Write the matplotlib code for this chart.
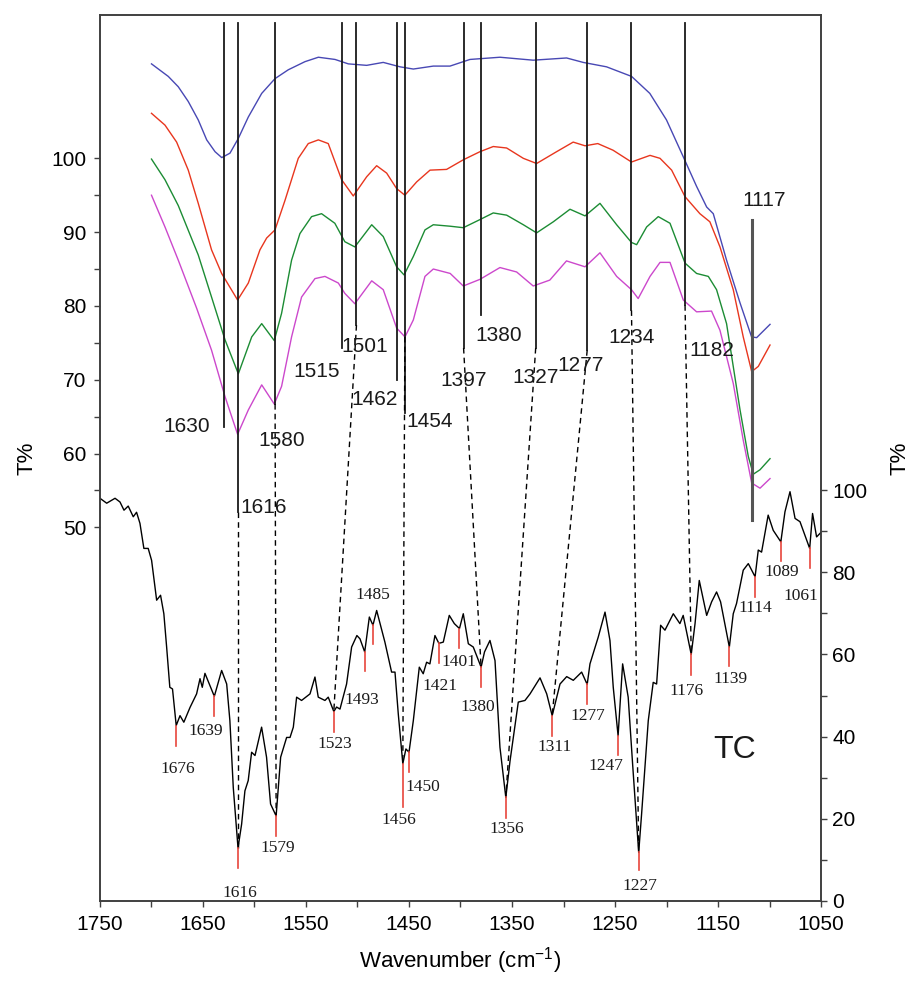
"""
FTIR overlay: four sample spectra (left T% axis) above the TC reference
spectrum (right T% axis), with band assignments linked by dashed lines.
"""
import matplotlib
matplotlib.use("Agg")
import matplotlib.pyplot as plt
import numpy as np
from matplotlib.ticker import FixedLocator

plt.rcParams["font.family"] = ["Liberation Sans", "DejaVu Sans"]
plt.rcParams["mathtext.fontset"] = "custom"
plt.rcParams["mathtext.rm"] = "Liberation Sans"

# --- sample spectra (wavenumber, T%) ---------------------------------------
WN_BLUE = [1700, 1683.7, 1674, 1664.3, 1654.6, 1646.4, 1638.3, 1631.8, 1623.8, 1615.7,
           1606, 1593, 1580.1, 1567.2, 1551, 1538, 1521.8, 1508.9, 1491.1, 1475,
           1458.7, 1445.8, 1426.4, 1410.2, 1390.8, 1361.7, 1329.4, 1297, 1280.9, 1258.2,
           1233.9, 1216.2, 1200, 1183.7, 1170.8, 1161, 1154.6, 1141.7, 1128.6, 1117.4,
           1112.5, 1099.5]
T_BLUE = [112.8, 111.1, 109.7, 107.7, 105.2, 102.5, 100.9, 100.1, 100.7, 102.7,
          105.6, 108.8, 110.8, 112.0, 113.1, 113.7, 113.4, 112.8, 112.6, 113.0,
          112.4, 112.1, 112.5, 112.5, 113.4, 113.7, 113.3, 113.6, 113.0, 112.4,
          111.1, 108.8, 105.2, 100.2, 96.2, 93.4, 92.5, 86.2, 80.4, 75.8,
          75.7, 77.5]

WN_RED = [1700, 1686.9, 1675.6, 1664.3, 1654.6, 1641.7, 1631.9, 1616.4, 1606, 1594.7,
          1588.2, 1580.1, 1570.4, 1557.5, 1547.8, 1538, 1528.4, 1515.4, 1504.1, 1491.1,
          1481.4, 1471.7, 1462, 1454, 1442.6, 1429.6, 1413.5, 1397.3, 1381.1, 1368.2,
          1355.2, 1339, 1326.1, 1306.7, 1290.6, 1279.1, 1266.7, 1251.9, 1234, 1216,
          1206.3, 1195, 1182, 1167.6, 1157.9, 1148.1, 1135.2, 1125.5, 1117.3, 1110.9,
          1099.5]
T_RED = [106.1, 104.5, 102.2, 98.4, 93.9, 87.6, 84.4, 80.8, 83.1, 87.6,
         89.2, 90.3, 94.3, 100.0, 102.0, 102.5, 102.0, 97.1, 94.9, 97.5,
         99.0, 98.0, 95.9, 95.0, 96.8, 98.4, 98.5, 99.8, 100.9, 101.6,
         101.4, 100.0, 99.3, 100.9, 102.2, 101.7, 102.0, 101.1, 99.5, 100.4,
         100.0, 98.4, 94.8, 92.5, 91.4, 88.0, 82.2, 75.8, 71.1, 71.8,
         74.7]

WN_GREEN = [1700, 1686.9, 1674, 1654.6, 1641.7, 1628.6, 1615.7, 1602.7, 1593, 1580.8,
            1573.7, 1564, 1555.9, 1544.6, 1534.9, 1522, 1512.3, 1502.6, 1486.2, 1475,
            1462, 1454.8, 1445.8, 1434.5, 1426.4, 1410, 1397.3, 1381.1, 1368.2, 1355.2,
            1339, 1326.1, 1309.9, 1293.7, 1279.1, 1264.6, 1248.4, 1234, 1229, 1219.3,
            1208, 1196.6, 1182, 1170.8, 1159.4, 1151.4, 1141.7, 1128.6, 1120.6, 1115.7,
            1109.2, 1099.5]
T_GREEN = [99.9, 97.1, 93.6, 86.9, 81.2, 75.4, 70.8, 75.8, 77.6, 75.3,
           79.0, 86.2, 89.8, 92.1, 92.5, 91.2, 88.7, 88.0, 91.0, 89.4,
           85.3, 84.2, 86.7, 90.3, 91.0, 90.8, 90.6, 91.7, 92.6, 92.3,
           91.0, 89.9, 91.4, 93.1, 92.2, 93.9, 91.0, 88.6, 88.3, 90.7,
           92.1, 91.2, 85.8, 84.4, 84.0, 82.2, 77.6, 65.9, 59.6, 57.2,
           57.8, 59.3]

WN_MAGENTA = [1700, 1686.9, 1674, 1656.2, 1641.7, 1628.6, 1616.4, 1606, 1593, 1580.8,
              1573.7, 1564, 1554.3, 1541.3, 1531.6, 1518.6, 1512.3, 1502.6, 1486.2, 1475,
              1462, 1453.9, 1445.8, 1434.5, 1426.4, 1410, 1397.3, 1381.1, 1361.7, 1345.5,
              1329.4, 1313.3, 1297.1, 1279.1, 1264.6, 1248.4, 1234, 1227.5, 1216, 1206.3,
              1196.6, 1183.7, 1170.8, 1156.3, 1148.1, 1135.2, 1125.5, 1117.3, 1109.2, 1099.5]
T_MAGENTA = [95.0, 90.7, 86.2, 79.7, 74.0, 67.7, 62.6, 65.9, 69.3, 66.7,
             69.1, 75.8, 81.2, 83.7, 84.0, 83.1, 81.7, 80.3, 83.4, 82.2,
             77.0, 75.8, 78.1, 84.0, 85.0, 84.4, 82.7, 83.6, 85.2, 84.6,
             82.7, 83.5, 86.1, 85.3, 87.2, 84.0, 82.2, 81.0, 84.0, 85.9,
             85.9, 80.8, 79.2, 79.3, 76.7, 69.5, 61.8, 56.0, 55.3, 56.6]

# --- TC reference spectrum (right axis) -------------------------------------
TC_WN = [1750, 1743.5, 1735.4, 1730.6, 1726.7, 1722.6, 1717.7, 1714.5, 1711.2, 1707.4,
         1703.2, 1699.9, 1695, 1691.2, 1688, 1685.3, 1682.2, 1679.6, 1676, 1672.3,
         1668.6, 1662.6, 1656.2, 1652.9, 1650.7, 1648.1, 1639, 1631.9, 1627, 1623.9,
         1620.6, 1616, 1612.5, 1609.3, 1606.1, 1602.8, 1599.5, 1593.1, 1588.3, 1584.4,
         1579, 1574.6, 1568.8, 1565.5, 1562.3, 1559.1, 1554.3, 1546.1, 1541.3, 1538.1,
         1531.6, 1528.4, 1523, 1520.3, 1517, 1510.6, 1505.7, 1500.6, 1497.6, 1493,
         1488.5, 1485, 1481.4, 1473.4, 1466.9, 1463.6, 1460.4, 1456, 1453, 1450,
         1445.8, 1440, 1436.2, 1432.9, 1429.7, 1424.8, 1421, 1416.7, 1410.9, 1406,
         1401, 1397.3, 1392.4, 1387.6, 1380, 1376.7, 1371.4, 1366.5, 1361.7, 1356,
         1351.9, 1343.9, 1337.4, 1332.5, 1322.8, 1316.3, 1311, 1303.4, 1296.9, 1290.5,
         1282.4, 1277, 1274.3, 1266.3, 1259.7, 1254.9, 1251.7, 1247, 1242.6, 1237.2,
         1232.9, 1227, 1224.2, 1217.7, 1212.9, 1209.6, 1205.7, 1201.5, 1193.4, 1187,
         1183.8, 1176, 1172.3, 1168.2, 1161, 1156.2, 1151.4, 1147.5, 1139, 1135.2,
         1132, 1125.5, 1120.6, 1114, 1110.9, 1107.7, 1101.3, 1096.4, 1089, 1085,
         1080.1, 1075.2, 1070.4, 1061, 1058.2, 1054.3, 1050.4]
TC_T = [98.0, 96.8, 98.0, 97.1, 95.1, 96.1, 93.5, 94.6, 91.9, 85.8,
        85.8, 82.9, 73.2, 74.4, 69.9, 61.8, 52.0, 51.6, 42.7, 45.1,
        43.5, 47.1, 50.4, 54.1, 52.0, 55.4, 49.8, 56.1, 52.8, 43.9,
        27.6, 12.9, 18.7, 26.8, 29.3, 36.2, 35.4, 42.3, 35.0, 23.6,
        20.7, 35.0, 39.8, 39.8, 42.3, 49.6, 48.8, 50.4, 54.5, 49.6,
        48.8, 49.6, 46.1, 47.2, 46.7, 52.8, 61.8, 64.6, 63.8, 60.6,
        69.1, 67.1, 70.7, 63.0, 55.7, 55.7, 45.5, 33.4, 37.0, 36.2,
        43.9, 56.9, 55.3, 58.1, 57.7, 64.6, 62.7, 63.0, 69.5, 67.5,
        66.3, 69.9, 62.6, 61.8, 56.9, 60.6, 63.4, 58.5, 37.4, 25.2,
        34.1, 48.4, 48.8, 50.4, 54.3, 50.4, 45.1, 52.8, 54.6, 53.7,
        55.7, 52.7, 57.7, 64.2, 70.3, 63.4, 52.0, 40.2, 57.7, 49.6,
        33.3, 11.8, 21.1, 43.9, 53.2, 52.8, 67.1, 65.9, 69.9, 67.5,
        69.5, 60.0, 67.5, 78.0, 69.5, 72.8, 75.2, 72.8, 61.8, 69.9,
        72.4, 80.5, 82.1, 78.9, 85.4, 84.9, 93.9, 90.2, 87.4, 94.7,
        99.6, 93.1, 92.3, 85.8, 94.3, 88.6, 89.6]

# TC peak picks
TC_PEAKS = [1676, 1639, 1616, 1579, 1523, 1493, 1485, 1456, 1450, 1421, 1401,
            1380, 1356, 1311, 1277, 1247, 1227, 1176, 1139, 1114, 1089, 1061]

# sample band assignments and the TC peak each one is linked to (None = no link)
BANDS = [1630, 1616, 1580, 1515, 1501, 1462, 1454, 1397, 1380, 1327, 1277, 1234, 1182]
BAND_TO_TC = [None, 1616, 1579, None, 1523, None, 1456, 1380, None, 1356, 1311, 1227, 1176]
MAIN_BAND = 1117

# --- layout -----------------------------------------------------------------
LEFT_LIM = (-0.64, 119.42)
RIGHT_LIM = (0.0, 215.6)
LINE_TOP = 118.4
BAND_LINE_BOTTOM = [63.6, 52.1, 66.7, 74.3, 77.4, 70.0, 65.5, 74.3, 78.8, 74.3, 74.0, 79.4, 80.1]
BAND_DASH_START = [None, 52.1, 66.7, None, 77.4, None, 75.8, 74.3, None, 74.3, 74.0, 79.4, 80.1]
BAND_LABEL_XY = [(1665.5, 63.7), (1590.8, 52.7), (1573.3, 61.7), (1539.6, 71.1),
                 (1492.7, 74.5), (1483.3, 67.3), (1430.1, 64.4), (1396.6, 69.9),
                 (1362.8, 76.0), (1327.2, 70.3), (1283.0, 71.9), (1233.5, 75.7),
                 (1155.8, 74.0)]
MAIN_LINE_SPAN = (91.6, 51.0)
MAIN_LABEL_XY = (1104.9, 94.3)
TC_TICK_LEN = [4.9, 4.7, 4.9, 4.8, 4.9, 4.7, 4.5, 10.6, 4.9, 4.9, 4.8,
               4.9, 4.9, 4.9, 4.7, 4.6, 4.3, 4.9, 4.7, 4.9, 4.7, 4.8]
TC_LABEL_XY = [(1674.3, 32.0), (1647.4, 41.3), (1613.8, 1.9), (1577.2, 13.0),
               (1521.8, 38.2), (1495.9, 48.8), (1484.9, 74.4), (1459.7, 19.7),
               (1436.4, 27.8), (1419.9, 52.4), (1401.5, 58.1), (1383.5, 47.1),
               (1355.1, 17.5), (1308.7, 37.4), (1276.0, 44.9), (1259.2, 32.9),
               (1225.7, 3.7), (1180.9, 51.2), (1137.6, 54.1), (1113.3, 71.3),
               (1088.3, 80.1), (1069.8, 74.1)]

FRAME = "#404040"
SERIF = ["Liberation Serif", "DejaVu Serif"]


def right_to_left(v):
    """Map a right-axis T% value onto the left axis scale."""
    r0, r1 = RIGHT_LIM
    l0, l1 = LEFT_LIM
    return l0 + (v - r0) * (l1 - l0) / (r1 - r0)


def tc_at(wn):
    return float(np.interp(wn, TC_WN[::-1], TC_T[::-1]))


def main():
    fig = plt.figure(figsize=(9.09, 9.82), dpi=100)
    ax = fig.add_axes([0.110, 0.0825, 0.7932, 0.9022])
    ax2 = ax.twinx()

    ax.plot(WN_BLUE, T_BLUE, color="#4848b4", lw=1.0)
    ax.plot(WN_RED, T_RED, color="#e8361e", lw=1.0)
    ax.plot(WN_GREEN, T_GREEN, color="#1c8c34", lw=1.0)
    ax.plot(WN_MAGENTA, T_MAGENTA, color="#cc48cc", lw=1.0)
    ax2.plot(TC_WN, TC_T, color="black", lw=1.0)

    ax.set_xlim(1750, 1050)
    ax.set_ylim(*LEFT_LIM)
    ax2.set_ylim(*RIGHT_LIM)

    # band lines, labels and dashed links to the TC peaks
    for i, band in enumerate(BANDS):
        ax.plot([band, band], [LINE_TOP, BAND_LINE_BOTTOM[i]], color="#1a1a1a", lw=1.3)
        lx, ly = BAND_LABEL_XY[i]
        ax.text(lx, ly, str(band), fontsize=15, ha="center", va="center", color="#1a1a1a")
        target = BAND_TO_TC[i]
        if target is not None:
            ax.plot([band, target], [BAND_DASH_START[i], right_to_left(tc_at(target))],
                    color="black", lw=1.0, linestyle=(0, (4, 3)))

    ax.plot([MAIN_BAND, MAIN_BAND], MAIN_LINE_SPAN, color="#555555", lw=2.2)
    ax.text(*MAIN_LABEL_XY, str(MAIN_BAND), fontsize=15, ha="center", va="center",
            color="#1a1a1a")

    # TC peak picks
    for i, pk in enumerate(TC_PEAKS):
        top = tc_at(pk)
        ax2.plot([pk, pk], [top, top - TC_TICK_LEN[i]], color="#e8463c", lw=1.2)
        lx, ly = TC_LABEL_XY[i]
        ax2.text(lx, ly, str(pk), fontsize=12.5, ha="center", va="center",
                 family=SERIF, color="#1a1a1a")

    ax2.text(1133.5, 36.7, "TC", fontsize=23, ha="center", va="center", color="#1a1a1a")

    # axes styling
    ax.xaxis.set_major_locator(FixedLocator(np.arange(1050, 1751, 100)))
    ax.xaxis.set_minor_locator(FixedLocator(np.arange(1100, 1701, 100)))
    ax.yaxis.set_major_locator(FixedLocator(np.arange(50, 101, 10)))
    ax.yaxis.set_minor_locator(FixedLocator(np.arange(55, 100, 10)))
    ax2.yaxis.set_major_locator(FixedLocator(np.arange(0, 101, 20)))
    ax2.yaxis.set_minor_locator(FixedLocator(np.arange(10, 100, 20)))

    for a in (ax, ax2):
        for s in a.spines.values():
            s.set_color(FRAME)
            s.set_linewidth(1.2)
    ax.tick_params(which="both", direction="out", length=4, width=1.0, color=FRAME,
                   labelsize=15, pad=6, top=False, right=False)
    ax2.tick_params(which="both", direction="out", length=4, width=1.0, color=FRAME,
                    labelsize=15, pad=4)

    ax.set_xlabel("Wavenumber (cm$^{-1}$)", fontsize=16, labelpad=8)
    ax.set_ylabel("T%", fontsize=16, labelpad=10)
    ax2.set_ylabel("T%", fontsize=16, labelpad=16)

    fig.savefig("out.png", dpi=100)
    plt.close(fig)


if __name__ == "__main__":
    main()
